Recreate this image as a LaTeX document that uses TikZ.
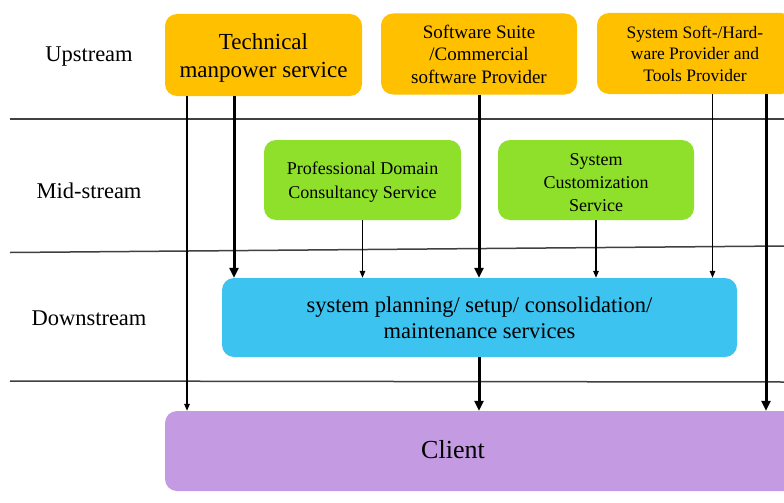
\documentclass[tikz,border=0pt]{standalone}
\usepackage{fontspec}
\setmainfont{Liberation Serif}
\usetikzlibrary{arrows.meta}
\definecolor{upc}{HTML}{FFC000}
\definecolor{midc}{HTML}{8EE02B}
\definecolor{downc}{HTML}{3DC3F0}
\definecolor{clic}{HTML}{C49AE2}
\definecolor{linec}{HTML}{404040}
\begin{document}
\begin{tikzpicture}[x=1pt,y=-1pt,
  box/.style={rounded corners=12pt, inner sep=0pt, align=center},
  lane/.style={font=\fontsize{22.5}{26}\selectfont},
  thinarrow/.style={line width=1.4pt, -{Triangle[length=7pt,width=5.5pt]}},
  thickarrow/.style={line width=3pt, -{Triangle[length=10pt,width=9pt]}},
  sepline/.style={linec, line width=1.5pt}]
\clip (0,0) rectangle (784,503);
\fill[white] (0,0) rectangle (784,503);
% separator lines
\draw[sepline] (10,119) -- (784,119);
\draw[sepline] (10,252.5) -- (784,246);
\draw[sepline] (10,381) -- (784,382);
% lane labels
\node[lane] (lup) at (89,56.5) {Upstream};
\node[lane] (lmid) at (89,191) {Mid-stream};
\node[lane] (ldown) at (89,318.5) {Downstream};
% boxes
\node[box, fill=upc, minimum width=197pt, minimum height=82pt,
  label={[name=techtext, yshift=-3pt, align=center, font=\fontsize{23}{28}\selectfont]center:Technical\\manpower service}] (tech) at (263.5,55) {};
\node[box, fill=upc, minimum width=196pt, minimum height=81pt,
  font=\fontsize{19}{22.5}\selectfont] (soft) at (479,54) {Software Suite\\/Commercial\\software Provider};
\node[box, fill=upc, minimum width=196pt, minimum height=81pt,
  font=\fontsize{17.5}{21.5}\selectfont] (sys) at (695,53.5) {System Soft-/Hard-\\ware Provider and\\Tools Provider};
\node[box, fill=midc, minimum width=197pt, minimum height=80pt,
  label={[name=proftext, yshift=-2pt, align=center, font=\fontsize{18}{24}\selectfont]center:Professional Domain\\Consultancy Service}] (prof) at (362.5,180) {};
\node[box, fill=midc, minimum width=196pt, minimum height=80pt,
  label={[name=custtext, yshift=-2.5pt, align=center, font=\fontsize{18}{23}\selectfont]center:System\\Customization\\Service}] (cust) at (596,180) {};
\node[box, fill=downc, minimum width=515pt, minimum height=79pt,
  font=\fontsize{22.5}{26}\selectfont] (plan) at (479.5,317.5) {system planning/ setup/ consolidation/\\maintenance services};
\node[box, fill=clic, minimum width=635pt, minimum height=80pt] (client) at (482.5,451) {};
\node[font=\fontsize{26}{30}\selectfont] (clienttext) at (453,449.5) {Client};
% column coordinates
\coordinate (c187) at (187,0);
\coordinate (c234) at (234,0);
\coordinate (c712) at (712.5,0);
\coordinate (c766) at (766,0);
% connectors
\draw[thinarrow] (tech.south -| c187) -- (client.north -| c187);
\draw[thickarrow] (tech.south -| c234) -- (plan.north -| c234);
\draw[thinarrow] (prof.south) -- (plan.north -| prof.south);
\draw[thickarrow] (soft.south) -- (plan.north -| soft.south);
\draw[thinarrow] (cust.south) -- (plan.north -| cust.south);
\draw[thinarrow] (sys.south -| c712) -- (plan.north -| c712);
\draw[thickarrow] (sys.south -| c766) -- (client.north -| c766);
\draw[thickarrow] (plan.south -| soft.south) -- (client.north -| soft.south);
\end{tikzpicture}
\end{document}
